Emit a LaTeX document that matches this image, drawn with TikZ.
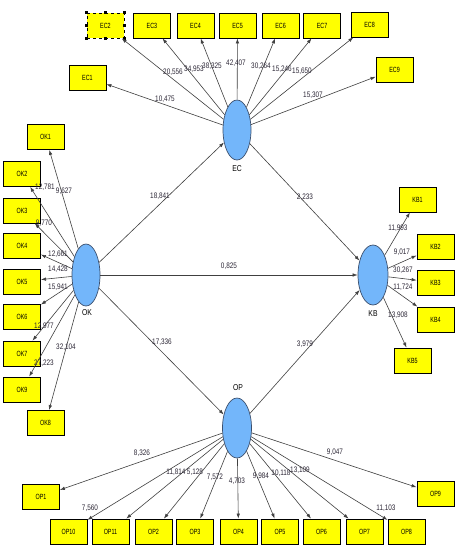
\documentclass[tikz,border=0pt]{standalone}
\usepackage{fontspec}
\newfontfamily\narrowfont[FakeStretch=0.8]{Liberation Sans}
\newfontfamily\boxfont[FakeStretch=0.72]{Liberation Sans}
\usetikzlibrary{shapes.geometric,arrows.meta}
\definecolor{lvblue}{RGB}{115,182,250}
\definecolor{lvline}{RGB}{60,80,110}
\definecolor{boxyellow}{RGB}{255,255,0}
\definecolor{numcol}{RGB}{45,40,55}
\tikzset{
  ind/.style={draw=black, line width=0.8pt, fill=boxyellow, minimum width=37pt, minimum height=25pt, inner sep=0pt, font=\boxfont\fontsize{7.5}{9}\selectfont},
  lv/.style={ellipse, draw=lvline, line width=0.7pt, fill=lvblue, minimum width=28pt, minimum height=60pt, inner sep=0pt},
  lvname/.style={font=\narrowfont\fontsize{8.5}{10}\selectfont, inner sep=0pt},
  lnk/.style={draw=black!75, line width=0.6pt, -{Latex[length=5pt,width=3.5pt]}},
  num/.style={font=\narrowfont\fontsize{8}{9}\selectfont, text=numcol, inner sep=0.5pt},
  handle/.style={fill=black, minimum size=2.6pt, inner sep=0pt}
}
\begin{document}
\begin{tikzpicture}[x=1pt,y=-1pt]
\useasboundingbox[fill=white] (0,0) rectangle (460,549);
% latent variables
\node[lv] (EC) at (237,130) {};
\node[lv, minimum height=62pt] (OK) at (86,275) {};
\node[lv, minimum width=30pt] (KB) at (373,275) {};
\node[lv, minimum width=29pt] (OP) at (237,428) {};
\node[lvname] (ECn) at (237,169) {EC};
\node[lvname] (OKn) at (87,313) {OK};
\node[lvname] (KBn) at (373,314) {KB};
\node[lvname] (OPn) at (238,388) {OP};
% EC indicators
\node[ind] (EC1) at (87.5,77.5) {EC1};
\node[ind, dashed] (EC2) at (105.5,25.5) {EC2};
\node[ind] (EC3) at (152,25.5) {EC3};
\node[ind] (EC4) at (195.5,25.5) {EC4};
\node[ind] (EC5) at (237.5,25.5) {EC5};
\node[ind] (EC6) at (280.5,25.5) {EC6};
\node[ind] (EC7) at (322,25.5) {EC7};
\node[ind] (EC8) at (369.5,24.5) {EC8};
\node[ind] (EC9) at (394.5,69.5) {EC9};
% selection handles on EC2
\foreach \a in {north west,north,north east,east,south east,south,south west,west}
  \node[handle] at (EC2.\a) {};
% OK indicators
\node[ind] (OK1) at (45.5,137) {OK1};
\node[ind] (OK2) at (22,174) {OK2};
\node[ind] (OK3) at (22,210.5) {OK3};
\node[ind] (OK4) at (22,246) {OK4};
\node[ind] (OK5) at (22,281.5) {OK5};
\node[ind] (OK6) at (22,317) {OK6};
\node[ind] (OK7) at (22,353.5) {OK7};
\node[ind] (OK9) at (22,389.5) {OK9};
\node[ind] (OK8) at (45.5,423) {OK8};
% KB indicators
\node[ind] (KB1) at (417.5,199.5) {KB1};
\node[ind] (KB2) at (435.5,247) {KB2};
\node[ind] (KB3) at (435.5,282.5) {KB3};
\node[ind] (KB4) at (435.5,319.5) {KB4};
\node[ind] (KB5) at (412.5,360.5) {KB5};
% OP indicators
\node[ind] (OP1) at (41,496.5) {OP1};
\node[ind] (OP10) at (68.5,531.5) {OP10};
\node[ind] (OP11) at (110.5,531.5) {OP11};
\node[ind] (OP2) at (153.5,531.5) {OP2};
\node[ind] (OP3) at (195,531.5) {OP3};
\node[ind] (OP4) at (238.5,531.5) {OP4};
\node[ind] (OP5) at (280,531.5) {OP5};
\node[ind] (OP6) at (321.5,531.5) {OP6};
\node[ind] (OP7) at (364.5,531.5) {OP7};
\node[ind] (OP8) at (406.5,531.5) {OP8};
\node[ind] (OP9) at (435.5,493.5) {OP9};
% connectors
\foreach \i in {1,...,9} \draw[lnk] (EC) -- (EC\i);
\foreach \i in {1,...,9} \draw[lnk] (OK) -- (OK\i);
\foreach \i in {1,...,5} \draw[lnk] (KB) -- (KB\i);
\foreach \i in {1,...,11} \draw[lnk] (OP) -- (OP\i);
\draw[lnk] (OK) -- (EC);
\draw[lnk] (OK) -- (KB);
\draw[lnk] (OK) -- (OP);
\draw[lnk] (EC) -- (KB);
\draw[lnk] (OP) -- (KB);
% numbers EC
\node[num] (n1) at (165,99) {10,475};
\node[num] (n2) at (173,72) {20,556};
\node[num] (n3) at (194,69) {34,953};
\node[num] (n4) at (212,66) {38,325};
\node[num] (n5) at (236,63) {42,407};
\node[num] (n6) at (261,66) {30,264};
\node[num] (n7) at (282,69) {15,246};
\node[num] (n8) at (302,71) {15,650};
\node[num] (n9) at (313,95) {15,307};
% numbers OK
\node[num] (m1) at (64,191) {9,627};
\node[num] (m2) at (45,187) {12,781};
\node[num] (m3) at (44,223) {9,770};
\node[num] (m4) at (58,254) {12,661};
\node[num] (m5) at (58,269) {14,428};
\node[num] (m6) at (58,287) {15,941};
\node[num] (m7) at (44,326) {12,977};
\node[num] (m8) at (44,363) {27,223};
\node[num] (m9) at (66,347) {32,104};
% structural
\node[num] (s1) at (160,196) {18,841};
\node[num] (s2) at (305,197) {2,233};
\node[num] (s3) at (229,266) {0,825};
\node[num] (s4) at (162,342) {17,336};
\node[num] (s5) at (305,344) {3,979};
% numbers KB
\node[num] (k1) at (398,228) {11,993};
\node[num] (k2) at (402,252) {9,017};
\node[num] (k3) at (403,270) {30,267};
\node[num] (k4) at (403,287) {11,724};
\node[num] (k5) at (398,315) {13,908};
% numbers OP
\node[num] (p1) at (142,453) {8,326};
\node[num] (p2) at (176,472) {11,814};
\node[num] (p3) at (195,472) {5,128};
\node[num] (p4) at (215,477) {7,572};
\node[num] (p5) at (90,508) {7,560};
\node[num] (p6) at (237,481) {4,703};
\node[num] (p7) at (261,476) {9,984};
\node[num] (p8) at (281,473) {10,118};
\node[num] (p9) at (300,470) {13,109};
\node[num] (p10) at (335,452) {9,047};
\node[num] (p11) at (386,508) {11,103};
\end{tikzpicture}
\end{document}
